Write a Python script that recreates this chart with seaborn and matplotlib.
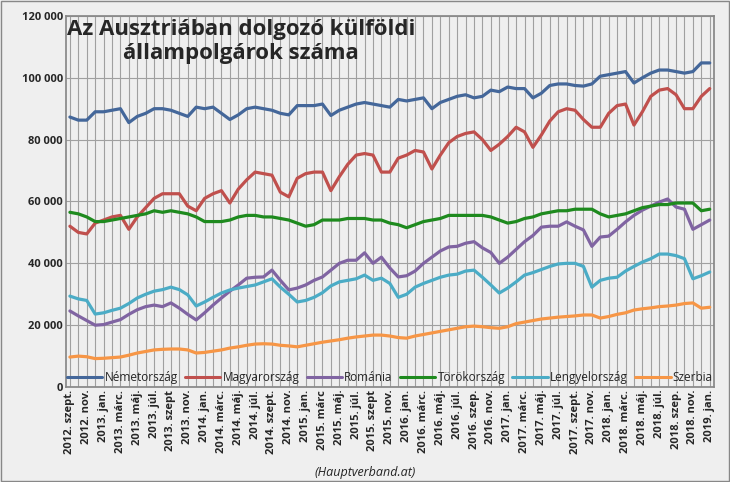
import matplotlib

matplotlib.use("Agg")
import matplotlib.pyplot as plt
import pandas as pd
import seaborn as sns

# Monthly values (thousand persons), 2012 Sep .. 2019 Jan
NEMET = [87.3, 86.3, 86.3, 89, 89, 89.5, 90, 85.5, 87.5, 88.5, 90, 90, 89.5, 88.5, 87.5, 90.5,
         90, 90.5, 88.5, 86.5, 88, 90, 90.5, 90, 89.5, 88.5, 88, 91, 91, 91, 91.5, 87.8,
         89.5, 90.5, 91.5, 92, 91.5, 91, 90.5, 93, 92.5, 93, 93.5, 90, 92, 93, 94, 94.5,
         93.5, 94, 96, 95.5, 97, 96.5, 96.5, 93.5, 95, 97.5, 98, 98, 97.5, 97.3, 98, 100.5,
         101, 101.5, 102, 98.3, 100, 101.5, 102.5, 102.5, 102, 101.5, 102, 104.8, 104.8]
MAGYAR = [52, 50, 49.5, 53, 54, 55, 55.5, 51, 55, 58, 61, 62.5, 62.5, 62.5, 58.5, 57,
          61, 62.5, 63.5, 59.5, 64, 67, 69.5, 69, 68.5, 63, 61.5, 67.5, 69, 69.5, 69.5, 63.5,
          68, 72, 75, 75.5, 75, 69.5, 69.5, 74, 75, 76.5, 76, 70.5, 75, 79, 81, 82,
          82.5, 80, 76.5, 78.5, 81, 84, 82.5, 77.5, 81.5, 86, 89, 90, 89.5, 86.5, 84, 84,
          88.5, 91, 91.5, 84.7, 89, 94, 96, 96.5, 94.5, 90, 90, 94, 96.5]
ROMANIA = [24.6, 23, 21.5, 20, 20.2, 21, 21.8, 23.5, 25, 26, 26.5, 26, 27.2, 25.5, 23.5, 21.7,
           24, 26.5, 28.8, 31, 33, 35.2, 35.5, 35.6, 37.8, 34.5, 31.4, 32, 33, 34.5, 35.6, 37.8,
           40, 41, 41, 43.4, 40, 42, 38.5, 35.6, 36, 37.5, 40, 42, 44, 45.3, 45.5, 46.5,
           47, 45, 43.5, 40, 42, 44.5, 47, 49, 51.7, 52, 52, 53.4, 52, 50.8, 45.5, 48.5,
           48.8, 51, 53.4, 55.5, 57.2, 58.5, 59.8, 60.8, 58.2, 57.5, 51, 52.5, 54]
TOROK = [56.5, 56, 55, 53.5, 53.5, 54, 54.5, 55, 55.5, 56, 57, 56.5, 57, 56.5, 56, 55,
         53.5, 53.5, 53.5, 54, 55, 55.5, 55.5, 55, 55, 54.5, 54, 53, 52, 52.5, 54, 54,
         54, 54.5, 54.5, 54.5, 54, 54, 53, 52.5, 51.5, 52.5, 53.5, 54, 54.5, 55.5, 55.5, 55.5,
         55.5, 55.5, 55, 54, 53, 53.5, 54.5, 55, 56, 56.5, 57, 57, 57.5, 57.5, 57.5, 56,
         55, 55.5, 56, 57, 58, 58.5, 59, 59, 59.5, 59.5, 59.5, 57, 57.5]
LENGYEL = [29.4, 28.5, 28, 23.6, 24, 24.8, 25.5, 27, 28.8, 30, 31, 31.5, 32.3, 31.5, 29.8, 26.2,
           27.5, 29, 30.4, 31.4, 32, 32.5, 33, 34, 35, 32.3, 30, 27.5, 28, 29, 30.5, 32.7,
           34, 34.5, 35, 36.2, 34.5, 35.2, 33.5, 29, 30, 32.3, 33.5, 34.5, 35.5, 36.2, 36.5, 37.5,
           37.8, 35.5, 33, 30.4, 32, 34, 36.2, 37, 38, 39, 39.8, 40, 40, 39, 32.3, 34.5,
           35.2, 35.5, 37.5, 39, 40.4, 41.5, 43, 43, 42.5, 41.5, 35, 36, 37.2]
SZERBIA = [9.7, 10, 9.8, 9.2, 9.3, 9.5, 9.7, 10.3, 11, 11.5, 12, 12.2, 12.3, 12.3, 12, 11,
           11.2, 11.6, 12, 12.6, 13, 13.5, 13.9, 14, 13.9, 13.5, 13.3, 13, 13.5, 14, 14.5, 14.9,
           15.3, 15.8, 16.2, 16.5, 16.8, 16.8, 16.5, 16, 15.8, 16.5, 17, 17.5, 18, 18.5, 19, 19.5,
           19.7, 19.5, 19.2, 19, 19.5, 20.5, 21, 21.5, 22, 22.3, 22.6, 22.8, 23, 23.3, 23.3, 22.3,
           22.8, 23.5, 24, 24.9, 25.3, 25.6, 26, 26.2, 26.5, 27, 27.2, 25.5, 25.8]

SERIES = {
    "Németország": NEMET,
    "Magyarország": MAGYAR,
    "Románia": ROMANIA,
    "Törökország": TOROK,
    "Lengyelország": LENGYEL,
    "Szerbia": SZERBIA,
}
COLORS = ["#44679a", "#c0504d", "#8064a2", "#1e8a1e", "#4bacc6", "#f79646"]

TICK_LABELS = [
    "2012. szept.", "2012. nov.", "2013. jan.", "2013. márc.", "2013. máj.", "2013. júl.",
    "2013. szept", "2013. nov.", "2014. jan.", "2014. márc.", "2014. máj.", "2014. júl.",
    "2014. szept.", "2014. nov.", "2015. jan.", "2015. márc", "2015. máj.", "2015. júl.",
    "2015. szept", "2015. nov.", "2016. jan.", "2016. márc.", "2016. máj.", "2016. júl.",
    "2016. szep.", "2016. nov.", "2017. jan.", "2017. márc.", "2017. máj.", "2017. júl.",
    "2017. szept.", "2017. nov.", "2018. jan.", "2018. márc.", "2018. máj.", "2018. júl.",
    "2018. szep.", "2018. nov.", "2019. jan.",
]

rows = []
for name, vals in SERIES.items():
    for i, v in enumerate(vals):
        rows.append({"honap": i, "orszag": name, "fo": v * 1000})
df = pd.DataFrame(rows)
n = len(NEMET)

sns.set_theme(style="white", font="Open Sans")
fig = plt.figure(figsize=(7.3, 4.82), dpi=100)
fig.patch.set_facecolor("#efefef")
ax = fig.add_axes([0.09, 0.197, 0.888, 0.77])
ax.set_facecolor("#efefef")

sns.lineplot(data=df, x="honap", y="fo", hue="orszag", palette=COLORS,
             linewidth=2.3, ax=ax, legend=True)

ax.set_xlim(-0.5, n - 0.5)
ax.set_ylim(0, 120000)
ax.set_yticks(range(0, 120001, 20000))
ax.set_yticklabels([f"{v:,}".replace(",", " ") for v in range(0, 120001, 20000)],
                   fontweight="bold", fontsize=8)
ax.set_xticks(range(0, n, 1), minor=True)
ax.set_xticks(range(0, n, 2))
ax.set_xticklabels(TICK_LABELS, rotation=90, fontweight="bold", fontsize=8)
ax.grid(True, axis="x", which="both", color="#a0a0a0", linewidth=0.8)
ax.grid(True, axis="y", which="major", color="#a0a0a0", linewidth=0.8)
ax.set_axisbelow(True)
ax.set_xlabel("")
ax.set_ylabel("")
ax.tick_params(axis="both", length=0, pad=2)
for s in ax.spines.values():
    s.set_color("#888888")

leg = ax.legend(loc="lower center", ncol=6, frameon=False, fontsize=8.5,
                handlelength=3, columnspacing=0.6, handletextpad=0.2,
                bbox_to_anchor=(0.5, -0.02))
for line in leg.get_lines():
    line.set_linewidth(2.2)

fig.text(0.33, 0.96, "Az Ausztriában dolgozó külföldi\nállampolgárok száma",
         ha="center", va="top", fontsize=16, fontweight="bold", linespacing=1.15)
fig.text(0.5, 0.012, "(Hauptverband.at)", ha="center", fontsize=9, style="italic")

border = plt.Rectangle((0.002, 0.002), 0.996, 0.996, transform=fig.transFigure,
                       fill=False, edgecolor="#888888", linewidth=1)
fig.patches.append(border)

fig.savefig("out.png", dpi=100, facecolor=fig.get_facecolor())
